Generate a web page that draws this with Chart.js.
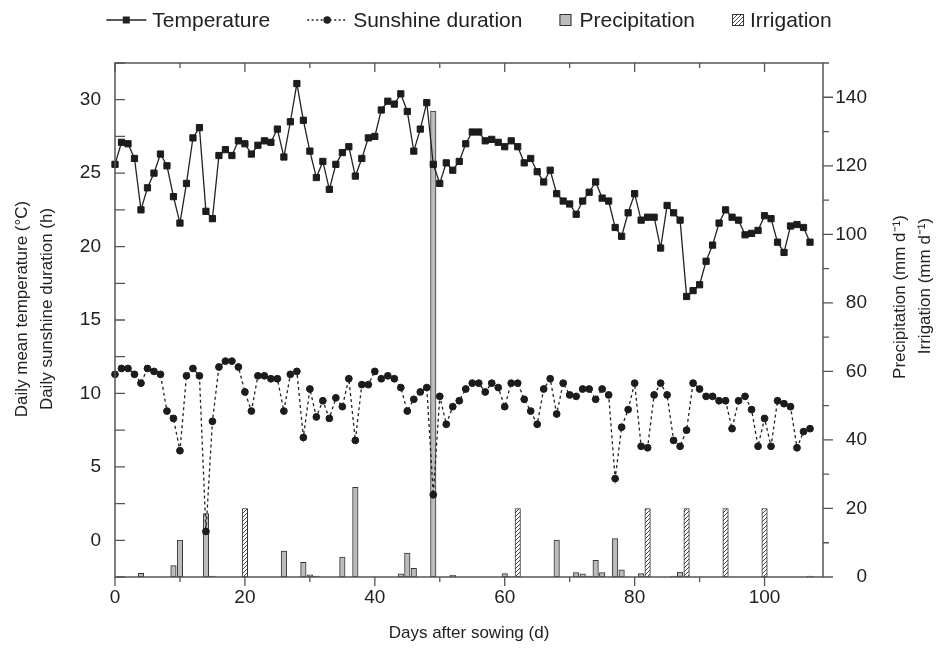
<!DOCTYPE html>
<html>
<head>
<meta charset="utf-8">
<title>Temperature, sunshine, precipitation and irrigation</title>
<script src="https://cdn.jsdelivr.net/npm/chart.js@4.4.0/dist/chart.umd.min.js"></script>
<style>
  html, body { margin: 0; padding: 0; background: #fff; }
  #wrap { width: 938px; height: 648px; }
</style>
</head>
<body>
<div id="wrap"><canvas id="climateChart" width="938" height="648"></canvas></div>
<script>
// days after sowing
const days = [0, 1, 2, 3, 4, 5, 6, 7, 8, 9, 10, 11, 12, 13, 14, 15, 16, 17, 18, 19,
  20, 21, 22, 23, 24, 25, 26, 27, 28, 29, 30, 31, 32, 33, 34, 35, 36, 37, 38, 39,
  40, 41, 42, 43, 44, 45, 46, 47, 48, 49, 50, 51, 52, 53, 54, 55, 56, 57, 58, 59,
  60, 61, 62, 63, 64, 65, 66, 67, 68, 69, 70, 71, 72, 73, 74, 75, 76, 77, 78, 79,
  80, 81, 82, 83, 84, 85, 86, 87, 88, 89, 90, 91, 92, 93, 94, 95, 96, 97, 98, 99,
  100, 101, 102, 103, 104, 105, 106, 107];

// daily mean temperature (°C)
const temperature = [25.6, 27.1, 27.0, 26.0, 22.5, 24.0, 25.0, 26.3, 25.5, 23.4,
  21.6, 24.3, 27.4, 28.1, 22.4, 21.9, 26.2, 26.6, 26.2, 27.2,
  27.0, 26.3, 26.9, 27.2, 27.1, 28.0, 26.1, 28.5, 31.1, 28.6,
  26.5, 24.7, 25.8, 23.9, 25.6, 26.4, 26.8, 24.8, 26.0, 27.4,
  27.5, 29.3, 29.9, 29.7, 30.4, 29.2, 26.5, 28.0, 29.8, 25.6,
  24.3, 25.7, 25.2, 25.8, 27.0, 27.8, 27.8, 27.2, 27.3, 27.1,
  26.8, 27.2, 26.8, 25.7, 26.0, 25.1, 24.4, 25.2, 23.6, 23.1,
  22.9, 22.2, 23.1, 23.7, 24.4, 23.3, 23.1, 21.3, 20.7, 22.3,
  23.6, 21.8, 22.0, 22.0, 19.9, 22.8, 22.3, 21.8, 16.6, 17.0,
  17.4, 19.0, 20.1, 21.6, 22.5, 22.0, 21.8, 20.8, 20.9, 21.1,
  22.1, 21.9, 20.3, 19.6, 21.4, 21.5, 21.3, 20.3];

// daily sunshine duration (h)
const sunshine = [11.3, 11.7, 11.7, 11.3, 10.7, 11.7, 11.5, 11.3, 8.8, 8.3,
  6.1, 11.2, 11.7, 11.2, 0.6, 8.1, 11.8, 12.2, 12.2, 11.8,
  10.1, 8.8, 11.2, 11.2, 11.0, 11.0, 8.8, 11.3, 11.5, 7.0,
  10.3, 8.4, 9.5, 8.3, 9.7, 9.1, 11.0, 6.8, 10.6, 10.6,
  11.5, 11.0, 11.2, 11.0, 10.4, 8.8, 9.6, 10.1, 10.4, 3.1,
  9.8, 7.9, 9.1, 9.5, 10.3, 10.7, 10.7, 10.1, 10.7, 10.4,
  9.1, 10.7, 10.7, 9.6, 8.8, 7.9, 10.3, 11.0, 8.6, 10.7,
  9.9, 9.8, 10.3, 10.3, 9.6, 10.3, 9.9, 4.2, 7.7, 8.9,
  10.7, 6.4, 6.3, 9.9, 10.7, 9.9, 6.8, 6.4, 7.5, 10.7,
  10.3, 9.8, 9.8, 9.5, 9.5, 7.6, 9.5, 9.8, 8.9, 6.4,
  8.3, 6.4, 9.5, 9.3, 9.1, 6.3, 7.4, 7.6];

// precipitation (mm/d), only rainy days
const rainDays = [4, 9, 10, 14, 15, 26, 29, 30, 31, 35, 37, 44, 45, 46, 49, 52,
  60, 61, 68, 71, 72, 73, 74, 75, 77, 78, 81, 86, 87, 107];
const precipitation = [1.1, 3.3, 10.8, 18.5, 0.3, 7.6, 4.3, 0.6, 0.3, 5.8, 26.2, 0.9, 7.0, 2.5, 136, 0.5,
  1.0, 0.2, 10.8, 1.3, 0.9, 0.3, 4.9, 1.3, 11.2, 2.1, 1.0, 0.3, 1.4, 0.3];

// irrigation (mm/d)
const irrigationDays = [20, 62, 82, 88, 94, 100];
const irrigation = [20, 20, 20, 20, 20, 20];

const FONT = "'Liberation Sans', Arial, Helvetica, sans-serif";
const INK = '#222';
const AXIS = '#555';

// diagonal hatch used for the irrigation bars
function makeHatch() {
    const c = document.createElement('canvas');
    c.width = 4; c.height = 4;
    const g = c.getContext('2d');
    g.fillStyle = '#fff';
    g.fillRect(0, 0, 4, 4);
    g.strokeStyle = '#333';
    g.lineWidth = 0.9;
    g.beginPath();
    g.moveTo(-1, 5); g.lineTo(5, -1);
    g.moveTo(-1, 1); g.lineTo(1, -1);
    g.moveTo(3, 5); g.lineTo(5, 3);
    g.stroke();
    return g.createPattern(c, 'repeat');
}
const hatch = makeHatch();

// tick marks: inward on left/top, outward on bottom/right, plus the frame
const frameTicks = {
    id: 'frameTicks',
    afterDraw(chart) {
        const { ctx, chartArea: a, scales } = chart;
        ctx.save();
        ctx.strokeStyle = AXIS;
        ctx.lineWidth = 1.3;
        ctx.beginPath();
        scales.x.ticks.forEach(t => {
            const px = scales.x.getPixelForValue(t.value);
            const len = t.value % 20 === 0 ? 9 : 5;
            ctx.moveTo(px, a.bottom); ctx.lineTo(px, a.bottom + len);
            ctx.moveTo(px, a.top); ctx.lineTo(px, a.top + len);
        });
        scales.y.ticks.forEach(t => {
            const py = scales.y.getPixelForValue(t.value);
            ctx.moveTo(a.left, py); ctx.lineTo(a.left + 10, py);
        });
        scales.y2.ticks.forEach(t => {
            const py = scales.y2.getPixelForValue(t.value);
            const len = t.value % 20 === 0 ? 10 : 6;
            ctx.moveTo(a.right, py); ctx.lineTo(a.right + len, py);
        });
        ctx.stroke();
        ctx.lineWidth = 1.5;
        ctx.strokeRect(a.left, a.top, a.right - a.left, a.bottom - a.top);
        ctx.restore();
    }
};

// axis titles, both side titles read bottom-to-top
const axisTitles = {
    id: 'axisTitles',
    afterDraw(chart) {
        const { ctx, chartArea: a } = chart;
        ctx.save();
        ctx.fillStyle = INK;
        ctx.font = '17px ' + FONT;
        ctx.textAlign = 'center';
        ctx.textBaseline = 'middle';
        ctx.fillText('Days after sowing (d)', (a.left + a.right) / 2, 633);

        const vertical = (text, x, y) => {
            ctx.save();
            ctx.translate(x, y);
            ctx.rotate(-Math.PI / 2);
            ctx.fillText(text, 0, 0);
            ctx.restore();
        };
        vertical('Daily mean temperature (°C)', 22, 309);
        vertical('Daily sunshine duration (h)', 47, 309);
        vertical('Precipitation (mm d\u207B\u00B9)', 900, 297);
        vertical('Irrigation (mm d\u207B\u00B9)', 925, 286);
        ctx.restore();
    }
};

// legend row along the top
const topLegend = {
    id: 'topLegend',
    afterDraw(chart) {
        const { ctx, chartArea: a } = chart;
        const items = [
            { label: 'Temperature', kind: 'temp', w: 40, gap: 6 },
            { label: 'Sunshine duration', kind: 'sun', w: 40, gap: 6 },
            { label: 'Precipitation', kind: 'rain', w: 12, gap: 8 },
            { label: 'Irrigation', kind: 'irr', w: 12, gap: 6 }
        ];
        const spacing = 37;
        const y = 20;
        ctx.save();
        ctx.font = '21px ' + FONT;
        ctx.textBaseline = 'middle';
        ctx.textAlign = 'left';
        let total = 0;
        items.forEach((it, i) => {
            it.tw = ctx.measureText(it.label).width;
            total += it.w + it.gap + it.tw + (i ? spacing : 0);
        });
        let x = (a.left + a.right) / 2 - total / 2;
        items.forEach(it => {
            ctx.strokeStyle = INK;
            ctx.fillStyle = INK;
            ctx.lineWidth = 1.3;
            if (it.kind === 'temp' || it.kind === 'sun') {
                ctx.setLineDash(it.kind === 'sun' ? [2, 2.5] : []);
                ctx.beginPath();
                ctx.moveTo(x, y); ctx.lineTo(x + it.w, y);
                ctx.stroke();
                ctx.setLineDash([]);
                ctx.beginPath();
                if (it.kind === 'temp') {
                    ctx.rect(x + it.w / 2 - 3.5, y - 3.5, 7, 7);
                } else {
                    ctx.arc(x + it.w / 2, y, 3.8, 0, Math.PI * 2);
                }
                ctx.fill();
            } else {
                ctx.fillStyle = it.kind === 'rain' ? '#bcbcbc' : hatch;
                ctx.fillRect(x, y - 6, 12, 12);
                ctx.lineWidth = 1;
                ctx.strokeStyle = '#333';
                ctx.strokeRect(x + 0.5, y - 5.5, 11, 11);
            }
            x += it.w + it.gap;
            ctx.fillStyle = INK;
            ctx.fillText(it.label, x, y + 1);
            x += it.tw + spacing;
        });
        ctx.restore();
    }
};

const tickFont = { family: FONT, size: 19 };

const ctx = document.getElementById('climateChart').getContext('2d');
new Chart(ctx, {
    type: 'bar',
    data: {
        datasets: [
            {
                type: 'line',
                label: 'Temperature',
                data: days.map((d, i) => ({ x: d, y: temperature[i] })),
                yAxisID: 'y',
                borderColor: INK,
                borderWidth: 1.3,
                pointStyle: 'rect',
                pointRadius: 4.4,
                pointBackgroundColor: '#1c1c1c',
                pointBorderColor: '#1c1c1c',
                pointBorderWidth: 1,
                tension: 0,
                clip: false
            },
            {
                type: 'line',
                label: 'Sunshine duration',
                data: days.map((d, i) => ({ x: d, y: sunshine[i] })),
                yAxisID: 'y',
                borderColor: INK,
                borderWidth: 1.3,
                borderDash: [3, 3],
                pointStyle: 'circle',
                pointRadius: 3.4,
                pointBackgroundColor: '#1c1c1c',
                pointBorderColor: '#1c1c1c',
                pointBorderWidth: 1,
                tension: 0,
                clip: false
            },
            {
                type: 'bar',
                label: 'Precipitation',
                data: rainDays.map((d, i) => ({ x: d, y: precipitation[i] })),
                yAxisID: 'y2',
                backgroundColor: '#bcbcbc',
                borderColor: '#333',
                borderWidth: 1,
                borderSkipped: false,
                barThickness: 5.5,
                grouped: false
            },
            {
                type: 'bar',
                label: 'Irrigation',
                data: irrigationDays.map((d, i) => ({ x: d, y: irrigation[i] })),
                yAxisID: 'y2',
                backgroundColor: hatch,
                borderColor: '#333',
                borderWidth: 1,
                borderSkipped: false,
                barThickness: 5.5,
                grouped: false
            }
        ]
    },
    options: {
        responsive: false,
        animation: false,
        layout: { padding: { left: 55, right: 71, top: 63, bottom: 31 } },
        plugins: {
            legend: { display: false },
            tooltip: { enabled: false }
        },
        scales: {
            x: {
                type: 'linear',
                min: 0,
                max: 109,
                offset: false,
                grid: { display: false, drawTicks: false },
                border: { display: false },
                ticks: {
                    stepSize: 10,
                    includeBounds: false,
                    autoSkip: false,
                    maxRotation: 0,
                    padding: 9,
                    color: INK,
                    font: tickFont,
                    callback: v => (v % 20 === 0 ? v : '')
                },
                afterFit: s => { s.height = 40; }
            },
            y: {
                position: 'left',
                min: -2.5,
                max: 32.5,
                grid: { display: false, drawTicks: false },
                border: { display: false },
                ticks: {
                    stepSize: 2.5,
                    autoSkip: false,
                    padding: 14,
                    color: INK,
                    font: tickFont,
                    callback: v => (v % 5 === 0 && v >= 0 && v <= 30 ? v : '')
                },
                afterFit: s => { s.width = 60; }
            },
            y2: {
                position: 'right',
                min: 0,
                max: 150,
                grid: { display: false, drawTicks: false },
                border: { display: false },
                ticks: {
                    stepSize: 10,
                    autoSkip: false,
                    padding: 12,
                    crossAlign: 'far',
                    color: INK,
                    font: tickFont,
                    callback: v => (v % 20 === 0 && v <= 140 ? v : '')
                },
                afterFit: s => { s.width = 44; }
            }
        }
    },
    plugins: [frameTicks, axisTitles, topLegend]
});
</script>
</body>
</html>
